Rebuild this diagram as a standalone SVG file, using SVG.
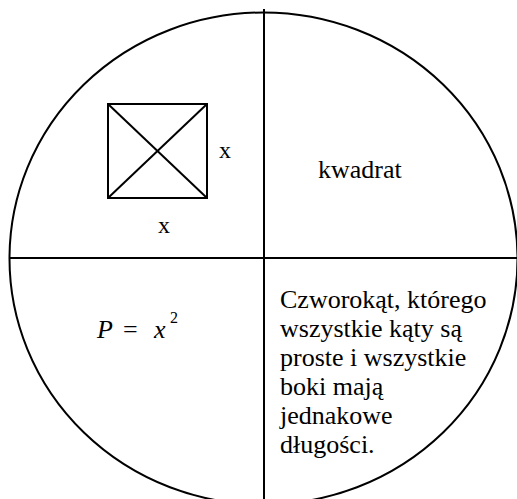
<svg xmlns="http://www.w3.org/2000/svg" width="517" height="499" viewBox="0 0 517 499">
<style>
.ln{stroke:#000;fill:none;stroke-width:2}
.s{font-family:"Liberation Serif","Times New Roman",serif;fill:#000}
</style>
<rect width="517" height="499" fill="#fff"/>
<g id="connectors">
<ellipse class="ln" cx="263.5" cy="258.5" rx="254" ry="246" stroke-width="1.8"/>
<line class="ln" x1="264" y1="9" x2="264" y2="499"/>
<line class="ln" x1="9" y1="258" x2="517" y2="258"/>
</g>
<g id="square">
<rect class="ln" x="108" y="104" width="99" height="94"/>
<line class="ln" x1="108" y1="104" x2="207" y2="198" stroke-width="1.6"/>
<line class="ln" x1="207" y1="104" x2="108" y2="198" stroke-width="1.6"/>
<text class="s" x="219" y="158" font-size="24">x</text>
<text class="s" x="158" y="233" font-size="24">x</text>
</g>
<g id="name">
<text class="s" x="318" y="178" font-size="26">kwadrat</text>
</g>
<g id="formula" class="s">
<text x="97" y="338" font-size="26" font-style="italic">P</text>
<text x="123" y="338" font-size="26">=</text>
<text x="154" y="338" font-size="26" font-style="italic">x</text>
<text x="170" y="323" font-size="16">2</text>
</g>
<g id="definition">
<text class="s" font-size="26">
<tspan x="280" y="308">Czworokąt, którego</tspan>
<tspan x="280" y="337">wszystkie kąty są</tspan>
<tspan x="280" y="366">proste i wszystkie</tspan>
<tspan x="280" y="395">boki mają</tspan>
<tspan x="280" y="424">jednakowe</tspan>
<tspan x="280" y="453">długości.</tspan>
</text>
</g>
</svg>
